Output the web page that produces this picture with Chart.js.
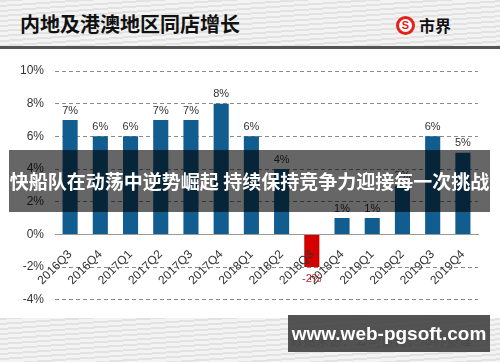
<!DOCTYPE html>
<html>
<head>
<meta charset="utf-8">
<script src="https://cdn.jsdelivr.net/npm/chart.js@4"></script>
<style>
  body { margin: 0; width: 500px; height: 362px; position: relative; overflow: hidden; background: #fff; font-family: "Noto Sans CJK SC", sans-serif; }
  .band { position: absolute; left: 0; width: 500px;
    background: repeating-linear-gradient(176deg, #e2e2e2 0px, #e2e2e2 2px, #f3f3f3 2px, #f3f3f3 5px); }
  #top { top: 0; height: 46px; border-bottom: 3px solid #555; }
  #bottom { top: 318px; height: 44px; }
  #titulo { position: absolute; left: 20px; top: 9px; font-size: 20px; font-weight: bold; color: #111; }
  #logo { position: absolute; left: 396px; top: 15px; height: 20px; display: flex; align-items: center; }
  #logo .c { width: 13px; height: 13px; border: 3px solid #e3231b; border-radius: 50%; background: #fff;
    color: #e3231b; font: bold 11px "Liberation Sans", sans-serif; line-height: 13px; text-align: center; }
  #logo .t { margin-left: 4px; font-size: 16px; font-weight: bold; color: #111; }
  #fonte { position: absolute; left: 290px; top: 330px; font-size: 13px; color: #777; }
  #grafico { position: absolute; left: 0; top: 48px; }
  #faixa { position: absolute; left: 9px; top: 150px; width: 481px; height: 62px; background: rgba(0,0,0,0.6);
    color: #fff; font-size: 19px; font-weight: bold; line-height: 62px; text-align: center; white-space: nowrap; z-index: 5; }
  #marca { position: absolute; left: 288px; top: 315px; width: 202px; height: 37px; background: rgba(70,70,70,0.93);
    color: #fff; font: bold 19px "Liberation Sans", sans-serif; line-height: 37px; text-align: center; z-index: 5; }
</style>
</head>
<body>
<div class="band" id="top"></div>
<div id="titulo">内地及港澳地区同店增长</div>
<div id="logo"><div class="c">S</div><div class="t">市界</div></div>
<div class="band" id="bottom"></div>
<div id="fonte">数据来源：公司资料，市界整理</div>
<canvas id="grafico" width="500" height="270"></canvas>
<div id="faixa">快船队在动荡中逆势崛起 持续保持竞争力迎接每一次挑战</div>
<div id="marca">www.web-pgsoft.com</div>

<script>
const trimestres = ['2016Q3', '2016Q4', '2017Q1', '2017Q2', '2017Q3', '2017Q4', '2018Q1',
  '2018Q2', '2018Q3', '2018Q4', '2019Q1', '2019Q2', '2019Q3', '2019Q4'];
const crescimento = [7, 6, 6, 7, 7, 8, 6, 4, -2, 1, 1, 3, 6, 5];
const ticksY = [-4, -2, 0, 2, 4, 6, 8, 10];

const azul = '#125d8f';
const vermelho = '#d40000';

// rotulos em cima das barras
const rotulos = {
  id: 'rotulos',
  afterDatasetsDraw(chart) {
    const c = chart.ctx;
    const meta = chart.getDatasetMeta(0);
    c.save();
    c.font = '11px "Liberation Sans", Arial';
    c.textAlign = 'center';
    meta.data.forEach(function (bar, i) {
      let v = crescimento[i];
      if (v < 0) {
        c.fillStyle = '#c0262b';
        c.textBaseline = 'top';
        c.fillText(v + '%', bar.x, bar.y + 6);
      } else {
        c.fillStyle = '#333';
        c.textBaseline = 'bottom';
        c.fillText(v + '%', bar.x, bar.y - 4);
      }
    });
    c.restore();
  }
};

const ctx = document.getElementById('grafico');

new Chart(ctx, {
  type: 'bar',
  data: {
    labels: trimestres,
    datasets: [{
      data: crescimento,
      backgroundColor: crescimento.map(v => v < 0 ? vermelho : azul),
      categoryPercentage: 1,
      barPercentage: 0.5
    }]
  },
  options: {
    responsive: false,
    animation: false,
    layout: { padding: { left: 0, right: 22, top: 23, bottom: 14 } },
    plugins: { legend: { display: false }, tooltip: { enabled: false } },
    scales: {
      x: {
        position: { y: 0 },
        grid: { display: false },
        border: { display: true, color: '#999', width: 1 },
        ticks: {
          z: 1,
          color: '#333',
          font: { family: '"Liberation Sans", Arial', size: 12 },
          maxRotation: 45,
          minRotation: 45,
          padding: 5
        }
      },
      y: {
        min: -4,
        max: 10,
        afterBuildTicks(scale) { scale.ticks = ticksY.map(v => ({ value: v })); },
        afterFit(scale) { scale.width = 55; },
        grid: { color: '#8a8a8a', drawTicks: false },
        border: { display: false, dash: [4, 3] },
        ticks: {
          color: '#333',
          padding: 11,
          font: { family: '"Liberation Sans", Arial', size: 12 },
          callback: v => v + '%'
        }
      }
    }
  },
  plugins: [rotulos]
});
</script>
</body>
</html>
